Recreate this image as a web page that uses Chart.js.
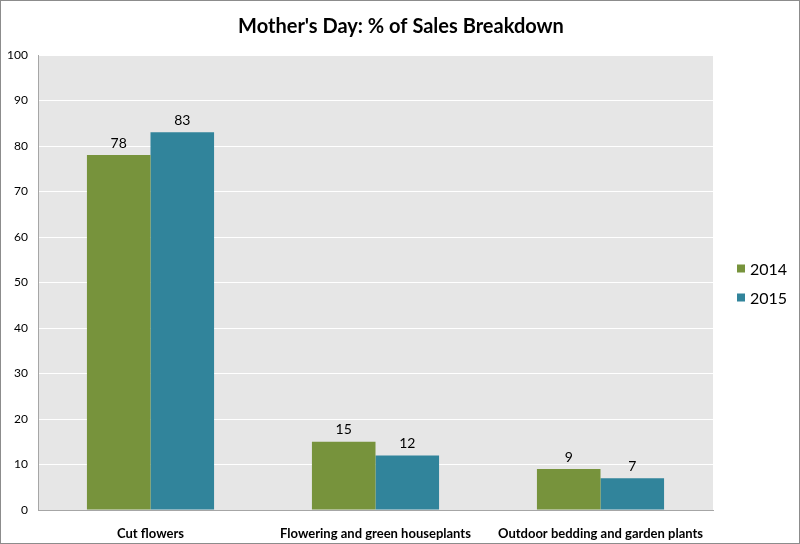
<!DOCTYPE html>
<html>
<head>
<meta charset="utf-8">
<script src="https://cdn.jsdelivr.net/npm/chart.js@4/dist/chart.umd.min.js"></script>
<style>
  html, body { margin: 0; padding: 0; background: #fff; }
  #wrap { width: 800px; height: 544px; box-sizing: border-box; border: 1px solid #8c8c8c; }
  #c { display: block; }
</style>
</head>
<body>
<div id="wrap"><canvas id="c" width="798" height="542"></canvas></div>
<script>
// ── data ──────────────────────────────────────────────
const categories = ['Cut flowers', 'Flowering and green houseplants', 'Outdoor bedding and garden plants'];
const sales2014 = [78, 15, 9];
const sales2015 = [83, 12, 7];
const yTicks = [0, 10, 20, 30, 40, 50, 60, 70, 80, 90, 100];
const chartTitle = "Mother's Day: % of Sales Breakdown";

const C = { green: '#77933c', teal: '#31849b', plot: '#e6e6e6', axis: '#a6a6a6' };
const FONT = 'Lato, "Open Sans", sans-serif';

// grey plot background + title centred on whole canvas
const plotBg = {
  id: 'plotBg',
  beforeDraw(chart) {
    const { ctx, chartArea: a } = chart;
    ctx.save();
    ctx.fillStyle = C.plot;
    ctx.fillRect(a.left, a.top, a.right - a.left, a.bottom - a.top);
    ctx.font = 'bold 20px ' + FONT;
    ctx.fillStyle = '#000';
    ctx.textAlign = 'center';
    ctx.textBaseline = 'middle';
    ctx.fillText(chartTitle, chart.width / 2 + 1, 26);
    ctx.restore();
  }
};

// value labels above bars
const valueLabels = {
  id: 'valueLabels',
  afterDatasetsDraw(chart) {
    const { ctx } = chart;
    ctx.save();
    ctx.font = '14px ' + FONT;
    ctx.fillStyle = '#000';
    ctx.textAlign = 'center';
    ctx.textBaseline = 'bottom';
    chart.data.datasets.forEach((ds, i) => {
      chart.getDatasetMeta(i).data.forEach((bar, j) => {
        ctx.fillText(ds.data[j], bar.x, bar.y - 5);
      });
    });
    ctx.restore();
  }
};

// legend on the right, Excel style
const sideLegend = {
  id: 'sideLegend',
  afterDraw(chart) {
    const { ctx, chartArea: a } = chart;
    const mid = (a.top + a.bottom) / 2;
    ctx.save();
    ctx.font = '16px ' + FONT;
    ctx.textBaseline = 'middle';
    chart.data.datasets.forEach((ds, i) => {
      const y = mid - 14 + i * 29;
      ctx.fillStyle = ds.backgroundColor;
      ctx.fillRect(736, y - 4, 8, 8);
      ctx.fillStyle = '#000';
      ctx.fillText(ds.label, 749, y + 1);
    });
    ctx.restore();
  }
};

new Chart(document.getElementById('c'), {
  type: 'bar',
  data: {
    labels: categories,
    datasets: [
      { label: '2014', data: sales2014, backgroundColor: C.green, borderWidth: 0 },
      { label: '2015', data: sales2015, backgroundColor: C.teal, borderWidth: 0 }
    ]
  },
  options: {
    responsive: false, animation: false,
    datasets: { bar: { categoryPercentage: 0.565, barPercentage: 1 } },
    layout: { padding: { right: 86, left: 0, top: 54, bottom: 0 } },
    plugins: {
      legend: { display: false },
      tooltip: { enabled: false },
      title: { display: false }
    },
    scales: {
      x: {
        grid: { display: false },
        border: { display: true, color: C.axis, width: 1 },
        ticks: { color: '#000', font: { family: FONT, size: 13, weight: 'bold' }, padding: 8, maxRotation: 0 },
        afterFit: s => { s.height = 33; }
      },
      y: {
        min: 0, max: 100,
        afterBuildTicks: s => { s.ticks = yTicks.map(v => ({ value: v })); },
        grid: { color: '#ffffff', lineWidth: 1, drawTicks: false },
        border: { display: true, color: C.axis, width: 1 },
        ticks: { color: '#000', font: { family: FONT, size: 12 }, padding: 10 },
        afterFit: s => { s.width = 37; }
      }
    }
  },
  plugins: [plotBg, valueLabels, sideLegend]
});
</script>
</body>
</html>
